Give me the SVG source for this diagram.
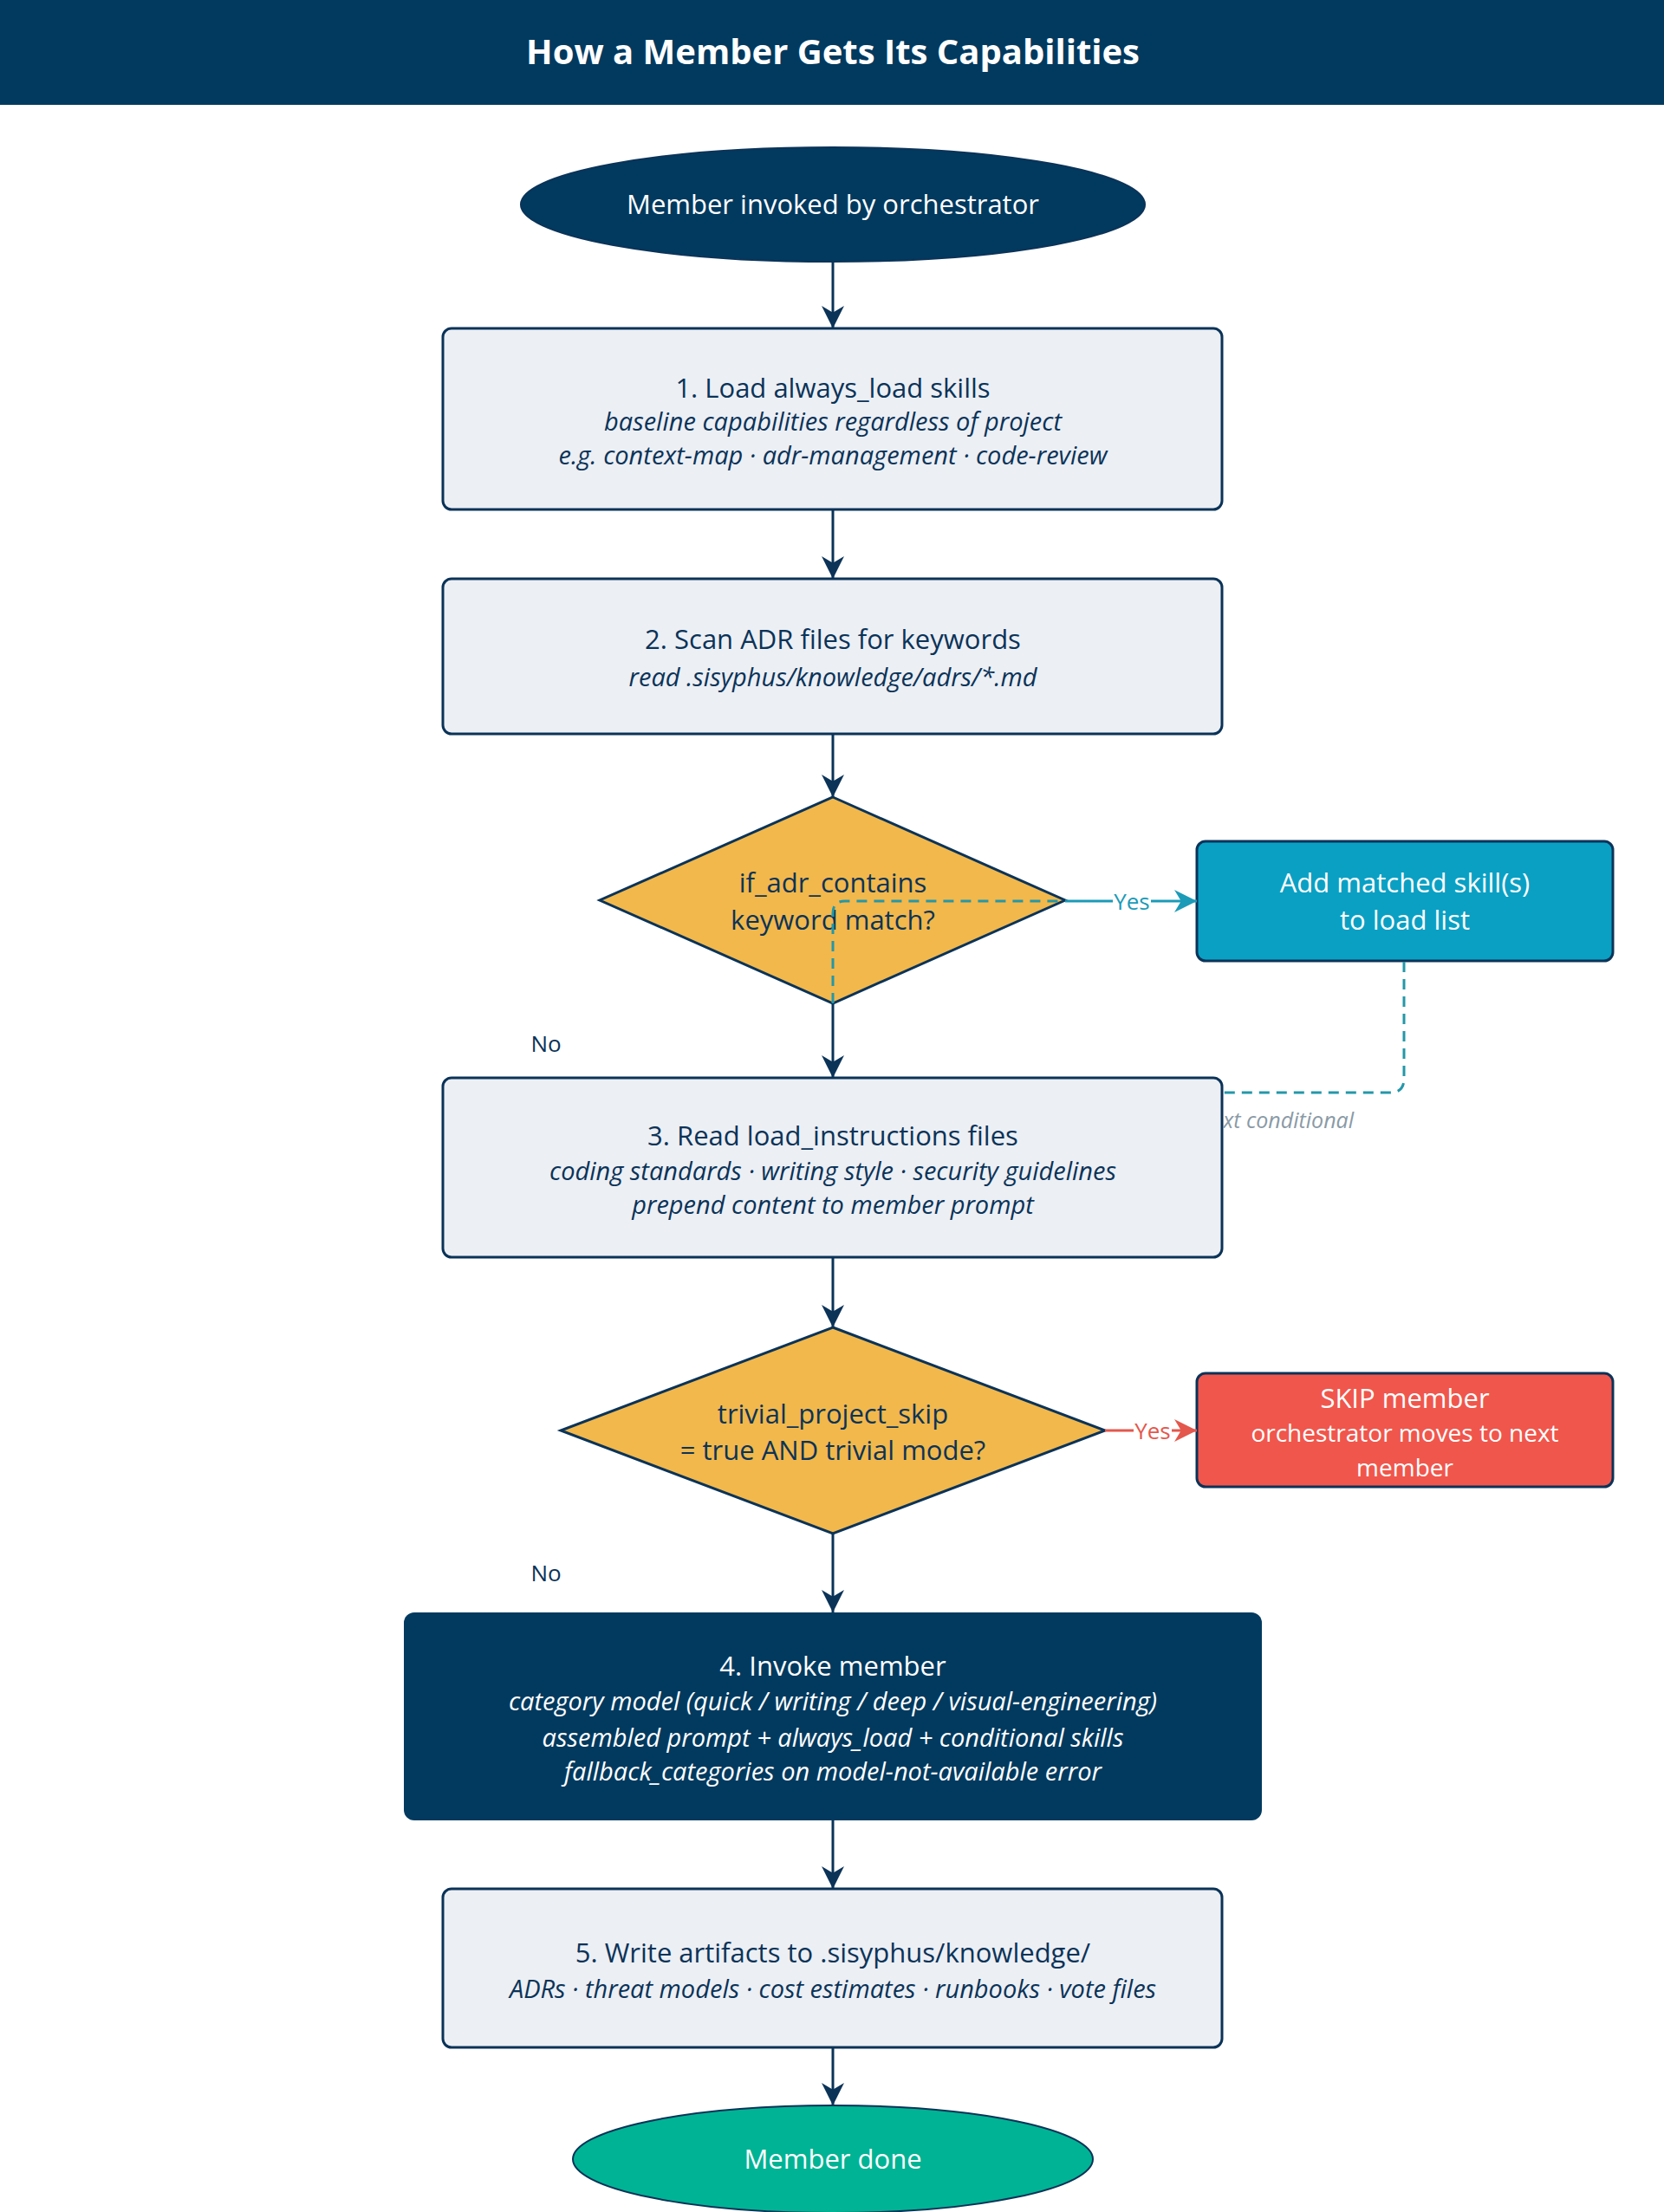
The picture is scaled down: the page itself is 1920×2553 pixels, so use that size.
<svg xmlns="http://www.w3.org/2000/svg" width="1920" height="2553" viewBox="0 0 1920 2553">
<style>
text{font-family:"Open Sans","Noto Sans","Liberation Sans",sans-serif;text-anchor:middle}
.t{font-size:31px;fill:#0b3358}
.i{font-size:29px;font-style:italic;fill:#0b3358}
.w{fill:#ffffff}
.box{fill:#eceff4;stroke:#0b3358;stroke-width:3}
.dia{fill:#f2b84b;stroke:#0b3358;stroke-width:3}
.edge{stroke:#0b3358;stroke-width:3;fill:none}
.lbl{font-size:26px}
.dash{stroke:#2497a9;stroke-width:3;fill:none;stroke-dasharray:12 8}
</style>
<defs>
<marker id="ah" viewBox="0 0 10 10" refX="10" refY="5" markerWidth="27" markerHeight="26" markerUnits="userSpaceOnUse" orient="auto">
<path d="M0,0 L10,5 L0,10 L3,5 Z" fill="#0b3358"/>
</marker>
<marker id="ahT" viewBox="0 0 10 10" refX="10" refY="5" markerWidth="27" markerHeight="26" markerUnits="userSpaceOnUse" orient="auto">
<path d="M0,0 L10,5 L0,10 L3,5 Z" fill="#1b9bb8"/>
</marker>
<marker id="ahR" viewBox="0 0 10 10" refX="10" refY="5" markerWidth="27" markerHeight="26" markerUnits="userSpaceOnUse" orient="auto">
<path d="M0,0 L10,5 L0,10 L3,5 Z" fill="#e4574d"/>
</marker>
<clipPath id="clipLbl"><rect x="1412" y="1270" width="300" height="50"/></clipPath>
</defs>
<rect x="0" y="0" width="1920" height="2553" fill="#ffffff"/>
<g id="header">
<rect x="0" y="0" width="1920" height="121" fill="#023a5f"/>
<text x="961" y="74" style="font-size:40px;font-weight:700;fill:#ffffff">How a Member Gets Its Capabilities</text>
</g>
<g id="start">
<ellipse cx="961" cy="236" rx="360" ry="66" fill="#023a5f" stroke="#0b3358" stroke-width="2"/>
<text x="961" y="247" class="t w">Member invoked by orchestrator</text>
</g>
<g id="step1">
<rect x="511" y="379" width="899" height="209" rx="10" class="box"/>
<text x="961" y="459" class="t">1. Load always_load skills</text>
<text x="961" y="497" class="i">baseline capabilities regardless of project</text>
<text x="961" y="536" class="i">e.g. context-map · adr-management · code-review</text>
</g>
<g id="step2">
<rect x="511" y="668" width="899" height="179" rx="10" class="box"/>
<text x="961" y="749" class="t">2. Scan ADR files for keywords</text>
<text x="961" y="792" class="i">read .sisyphus/knowledge/adrs/*.md</text>
</g>
<g id="decision1">
<polygon points="961,920 1229,1039 961,1158 692,1039" class="dia"/>
<text x="961" y="1030" class="t">if_adr_contains</text>
<text x="961" y="1073" class="t">keyword match?</text>
</g>
<g id="addSkills">
<rect x="1381" y="971" width="480" height="138" rx="10" fill="#0aa0c4" stroke="#0b3358" stroke-width="3"/>
<text x="1621" y="1030" class="t w">Add matched skill(s)</text>
<text x="1621" y="1073" class="t w">to load list</text>
</g>
<g id="connectors-under">
<path d="M961,1158 V1054 Q961,1040 975,1040 H1228" class="dash"/>
<path d="M1620,1110 V1245 Q1620,1261 1604,1261 H1412" class="dash"/>
<text x="1562" y="1302" clip-path="url(#clipLbl)" style="font-size:25px;font-style:italic;fill:#8a9aa6;text-anchor:end">next conditional</text>
</g>
<g id="step3">
<rect x="511" y="1244" width="899" height="207" rx="10" class="box"/>
<text x="961" y="1322" class="t">3. Read load_instructions files</text>
<text x="961" y="1362" class="i">coding standards · writing style · security guidelines</text>
<text x="961" y="1401" class="i">prepend content to member prompt</text>
</g>
<g id="decision2">
<polygon points="961,1532 1275,1651 961,1770 647,1651" class="dia"/>
<text x="961" y="1643" class="t">trivial_project_skip</text>
<text x="961" y="1685" class="t">= true AND trivial mode?</text>
</g>
<g id="skip">
<rect x="1381" y="1585" width="480" height="131" rx="10" fill="#f0564c" stroke="#0b3358" stroke-width="3"/>
<text x="1621" y="1625" class="t w">SKIP member</text>
<text x="1621" y="1664" class="w" style="font-size:28px">orchestrator moves to next</text>
<text x="1621" y="1704" class="w" style="font-size:28px">member</text>
</g>
<g id="step4">
<rect x="466" y="1861" width="990" height="240" rx="12" fill="#023a5f"/>
<text x="961" y="1934" class="t w">4. Invoke member</text>
<text x="961" y="1974" class="i w">category model (quick / writing / deep / visual-engineering)</text>
<text x="961" y="2016" class="i w">assembled prompt + always_load + conditional skills</text>
<text x="961" y="2055" class="i w">fallback_categories on model-not-available error</text>
</g>
<g id="step5">
<rect x="511" y="2180" width="899" height="183" rx="10" class="box"/>
<text x="961" y="2265" class="t">5. Write artifacts to .sisyphus/knowledge/</text>
<text x="961" y="2306" class="i">ADRs · threat models · cost estimates · runbooks · vote files</text>
</g>
<g id="end">
<ellipse cx="961" cy="2492" rx="300" ry="62" fill="#00b394" stroke="#0b3358" stroke-width="2"/>
<text x="961" y="2503" class="t w">Member done</text>
</g>
<g id="connectors">
<line x1="961" y1="302" x2="961" y2="379" class="edge" marker-end="url(#ah)"/>
<line x1="961" y1="588" x2="961" y2="668" class="edge" marker-end="url(#ah)"/>
<line x1="961" y1="847" x2="961" y2="920" class="edge" marker-end="url(#ah)"/>
<line x1="961" y1="1158" x2="961" y2="1244" class="edge" marker-end="url(#ah)"/>
<line x1="961" y1="1451" x2="961" y2="1532" class="edge" marker-end="url(#ah)"/>
<line x1="961" y1="1770" x2="961" y2="1861" class="edge" marker-end="url(#ah)"/>
<line x1="961" y1="2101" x2="961" y2="2180" class="edge" marker-end="url(#ah)"/>
<line x1="961" y1="2363" x2="961" y2="2430" class="edge" marker-end="url(#ah)"/>
<line x1="1229" y1="1040" x2="1381" y2="1040" stroke="#1b9bb8" stroke-width="3" marker-end="url(#ahT)"/>
<rect x="1284" y="1024" width="44" height="34" fill="#ffffff"/>
<text x="1306" y="1050" class="lbl" style="fill:#1b9bb8">Yes</text>
<line x1="1275" y1="1651" x2="1381" y2="1651" stroke="#e4574d" stroke-width="3" marker-end="url(#ahR)"/>
<rect x="1308" y="1635" width="44" height="34" fill="#ffffff"/>
<text x="1330" y="1661" class="lbl" style="fill:#e4574d">Yes</text>
<text x="630" y="1214" class="lbl" style="fill:#0b3358">No</text>
<text x="630" y="1825" class="lbl" style="fill:#0b3358">No</text>
</g>
</svg>
